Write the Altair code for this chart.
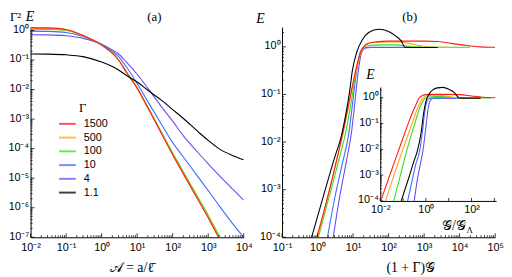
import altair as alt
import pandas as pd

SERIES = ["1500", "500", "100", "10", "4", "1.1"]
COLORS = ["#ff1a1a", "#ffa31a", "#33e01a", "#3a6cff", "#6a4cf0", "#000000"]
DRAW_ORDER = ["4", "10", "100", "500", "1500", "1.1"]

# ---------------- panel (a): Gamma^2 E vs A ----------------
A_X = [0.01, 0.03, 0.1, 0.3, 1, 2, 3, 5, 10, 20, 50, 100, 200, 500, 1000, 2000, 5000, 10000]
A_Y = {
    "1500": [1.25, 1.22, 1.08, 0.68, 0.32, 0.17, 0.1, 0.038, 0.011, 2.4e-3, 3.0e-4, 6.2e-5, 1.4e-5, 2.0e-6, 4.6e-7, 9.5e-8, 1.3e-8, 2.5e-9],
    "500": [1.18, 1.16, 1.04, 0.67, 0.32, 0.17, 0.1, 0.039, 0.0112, 2.45e-3, 3.1e-4, 6.4e-5, 1.45e-5, 2.1e-6, 4.8e-7, 1.0e-7, 1.4e-8, 2.7e-9],
    "100": [1.1, 1.09, 1.0, 0.66, 0.32, 0.17, 0.1, 0.04, 0.0118, 2.6e-3, 3.4e-4, 7.2e-5, 1.65e-5, 2.4e-6, 5.6e-7, 1.2e-7, 1.8e-8, 3.5e-9],
    "10": [0.95, 0.93, 0.85, 0.62, 0.34, 0.2, 0.13, 0.058, 0.016, 3.9e-3, 6.2e-4, 1.6e-4, 5.2e-5, 1.18e-5, 3.8e-6, 1.21e-6, 2.8e-7, 1.0e-7],
    "4": [0.72, 0.71, 0.66, 0.54, 0.34, 0.22, 0.16, 0.085, 0.033, 0.011, 2.5e-3, 8.5e-4, 2.7e-4, 7.7e-5, 3.06e-5, 1.27e-5, 4.15e-6, 1.8e-6],
    "1.1": [0.16, 0.158, 0.15, 0.13, 0.085, 0.06, 0.046, 0.03, 0.018, 0.0095, 4.2e-3, 2.1e-3, 1.05e-3, 3.9e-4, 1.9e-4, 1.0e-4, 5.8e-5, 4.2e-5],
}

# ---------------- panel (b): E vs (1+Gamma)G ----------------
B_X = {
    "1500": [0.955, 1.86, 3.16, 5.01, 7.08, 10, 13.2, 17.8, 25.1, 39.8, 100, 316, 1000, 2512, 6310, 15850, 39810, 100000],
    "500": [1.0, 1.86, 3.16, 5.25, 7.41, 10.5, 13.8, 18.6, 26.3, 39.8, 100, 200, 398, 794, 1259, 3981],
    "100": [1.05, 2.4, 3.9, 6.31, 8.91, 11.7, 15.1, 20, 28.2, 63.1, 158, 316, 631, 3162, 19950],
    "10": [1.9, 3.1, 5.01, 7.76, 10, 12.6, 15.8, 20, 28.2, 100, 398],
    "4": [2.75, 4.3, 6.5, 9.12, 11.5, 14.1, 17.4, 21.4, 31.6, 100, 316],
    "1.1": [0.68, 1.5, 3.1, 4.57, 6.31, 7.94, 9.55, 12.6, 18.2, 27.5, 52.5, 100, 158, 229, 288, 398, 2400],
}
B_Y = {
    "1500": [1e-4, 6.3e-4, 3.16e-3, 0.0141, 0.05, 0.178, 0.447, 0.891, 1.17, 1.26, 1.32, 1.32, 1.32, 1.29, 1.17, 1.07, 1.0, 0.977],
    "500": [1e-4, 6.3e-4, 3.16e-3, 0.0158, 0.056, 0.19, 0.468, 0.891, 1.15, 1.23, 1.26, 1.26, 1.17, 1.05, 0.99, 0.977],
    "100": [1e-4, 1e-3, 3.98e-3, 0.017, 0.0708, 0.251, 0.603, 1.0, 1.07, 1.1, 1.1, 1.05, 1.0, 0.977, 0.977],
    "10": [1e-4, 7.1e-4, 3.55e-3, 0.017, 0.079, 0.316, 0.76, 0.955, 0.977, 0.977, 0.977],
    "4": [1e-4, 7.9e-4, 3.98e-3, 0.017, 0.079, 0.316, 0.76, 0.933, 0.966, 0.966, 0.966],
    "1.1": [1e-4, 7.9e-4, 5.0e-3, 0.0126, 0.04, 0.112, 0.316, 0.76, 1.41, 2.0, 2.34, 2.09, 1.7, 1.32, 0.977, 0.966, 0.966],
}

# ---------------- inset: E vs G/G_Lambda ----------------
I_X = {
    "1500": [0.0105, 0.0316, 0.0631, 0.145, 0.251, 0.355, 0.501, 0.708, 1.0, 3.16, 10, 31.6, 100, 316, 1200],
    "500": [0.017, 0.0398, 0.0933, 0.214, 0.355, 0.501, 0.708, 1.0, 2.0, 3.55, 7.94, 20, 70.8],
    "100": [0.0389, 0.0794, 0.145, 0.288, 0.447, 0.631, 0.891, 1.26, 2.51, 6.31, 20, 100, 676],
    "10": [0.158, 0.251, 0.355, 0.537, 0.708, 0.891, 1.12, 1.41, 2.0, 6.31, 31.6],
    "4": [0.309, 0.417, 0.562, 0.741, 0.955, 1.2, 1.51, 1.91, 2.82, 6.31, 31.6],
    "1.1": [0.0832, 0.178, 0.316, 0.427, 0.631, 0.794, 1.0, 1.41, 2.0, 3.16, 5.62, 10, 17.8, 27.5, 35.5, 251],
}
I_Y = {
    "1500": [1e-4, 1.58e-3, 8.9e-3, 0.069, 0.251, 0.501, 0.955, 1.23, 1.32, 1.35, 1.35, 1.32, 1.17, 1.05, 1.0],
    "500": [1e-4, 1e-3, 8.9e-3, 0.069, 0.251, 0.525, 0.933, 1.17, 1.26, 1.26, 1.15, 1.02, 0.977],
    "100": [1e-4, 1.12e-3, 8.9e-3, 0.069, 0.251, 0.562, 0.933, 1.07, 1.1, 1.1, 1.0, 0.977, 0.977],
    "10": [1e-4, 6.3e-4, 2.5e-3, 8.9e-3, 0.05, 0.282, 0.741, 0.933, 0.966, 0.966, 0.966],
    "4": [1e-4, 6.3e-4, 2.5e-3, 8.9e-3, 0.05, 0.282, 0.741, 0.933, 0.966, 0.966, 0.966],
    "1.1": [1e-4, 7.9e-4, 3.98e-3, 8.9e-3, 0.05, 0.251, 0.708, 1.41, 2.0, 2.4, 2.51, 2.14, 1.58, 1.0, 0.966, 0.966],
}

W, H = 217, 214
INSET = dict(x0=100, x1=218, y0=177, y1=61)
TOP = -10  # vertical centre of the texts above the plots

SUP = str.maketrans("-0123456789", "⁻⁰¹²³⁴⁵⁶⁷⁸⁹")


def label_expr(lo, hi):
    expr = "''"
    for e in range(hi, lo - 1, -1):
        expr = "abs(log(datum.value)/LN10 - (%d)) < 0.01 ? '10%s' : (%s)" % (e, str(e).translate(SUP), expr)
    return expr


def majors(lo, hi):
    return [10.0 ** e for e in range(lo, hi + 1)]


def minors(lo, hi, vmax):
    return [k * 10.0 ** e for e in range(lo, hi + 1) for k in range(2, 10) if k * 10.0 ** e <= vmax]


def frame(xs, ys):
    rows = []
    for i, g in enumerate(DRAW_ORDER):
        xv = xs if isinstance(xs, list) else xs[g]
        for x, y in zip(xv, ys[g]):
            rows.append({"x": x, "y": y, "g": g, "k": i})
    return pd.DataFrame(rows)


def axis(lo, hi, values=None, **kw):
    base = dict(values=values if values is not None else majors(lo, hi), labelExpr=label_expr(lo, hi),
                ticks=False, grid=False, domain=True, domainColor="black", domainWidth=1,
                labelFont="Liberation Sans", labelFontSize=11, labelColor="black",
                labelFlush=False, labelOverlap=False, title=None)
    base.update(kw)
    return alt.Axis(**base)


CSCALE = alt.Scale(domain=SERIES, range=COLORS)


def lines(df, xs, ys, xaxis, yaxis, legend=None):
    return alt.Chart(df).mark_line(strokeWidth=1.1, interpolate="monotone", clip=True).encode(
        x=alt.X("x:Q", scale=xs, axis=xaxis),
        y=alt.Y("y:Q", scale=ys, axis=yaxis),
        color=alt.Color("g:N", scale=CSCALE, legend=legend, sort=SERIES),
        detail="k:O",
    )


def yticks(vals, scale, yaxis, length, x0=0):
    return alt.Chart(pd.DataFrame({"y": vals})).mark_rule(color="black", strokeWidth=0.8).encode(
        y=alt.Y("y:Q", scale=scale, axis=yaxis), x=alt.value(x0), x2=alt.value(x0 + length))


def xticks(vals, scale, xaxis, length, y0=H):
    return alt.Chart(pd.DataFrame({"x": vals})).mark_rule(color="black", strokeWidth=0.8).encode(
        x=alt.X("x:Q", scale=scale, axis=xaxis), y=alt.value(y0), y2=alt.value(y0 - length))


def text(t, x, y, size=13, font="Liberation Serif", style="normal", align="center", baseline="middle"):
    return alt.Chart(pd.DataFrame({"t": [t]})).mark_text(
        font=font, fontSize=size, fontStyle=style, align=align, baseline=baseline, color="black"
    ).encode(x=alt.value(x), y=alt.value(y), text="t:N")


# ---------- panel (a) ----------
xa = alt.Scale(type="log", domain=[0.01, 1e4], nice=False)
ya = alt.Scale(type="log", domain=[1e-7, 1.3], nice=False)
ax_xa = axis(-2, 4, labelPadding=4)
ax_ya = axis(-7, 0, labelPadding=2, labelOffset=-1)
legend_a = alt.Legend(orient="none", legendX=28, legendY=76, title="Γ", titleFont="Liberation Serif",
                      titleFontSize=13, titleFontWeight="normal", titleColor="black", titleAnchor="middle",
                      titlePadding=3, labelFont="Liberation Sans", labelFontSize=11, labelColor="black",
                      symbolType="stroke", symbolSize=289, symbolStrokeWidth=2, symbolOpacity=0.75,
                      clipHeight=13, rowPadding=1, labelOffset=7, padding=0)
panel_a = alt.layer(
    lines(frame(A_X, A_Y), xa, ya, ax_xa, ax_ya, legend_a),
    yticks(majors(-7, 0), ya, ax_ya, 4), yticks(minors(-7, 0, 1.3), ya, ax_ya, 2),
    xticks(majors(-2, 4), xa, ax_xa, 4), xticks(minors(-2, 3, 1e4), xa, ax_xa, 2),
    text("Γ²", -21, TOP, size=13, align="left"),
    text("E", -5, TOP, size=14, style="italic", align="left"),
    text("(a)", 126, TOP, size=13),
    text("𝒜 = a/ℓ̄", 103, 245, size=14),
).properties(width=W, height=H)

# ---------- panel (b) ----------
xb = alt.Scale(type="log", domain=[0.1, 1e5], nice=False)
yb = alt.Scale(type="log", domain=[1e-4, 2.6], nice=False)
xi = alt.Scale(type="log", domain=[0.01, 1200], nice=False, range=[INSET["x0"], INSET["x1"]])
yi = alt.Scale(type="log", domain=[1e-4, 2.6], nice=False, range=[INSET["y0"], INSET["y1"]])
ax_xb = axis(-1, 5, labelPadding=4)
ax_yb = axis(-4, 0, labelPadding=2, labelOffset=-1)
ax_xi = axis(-2, 2, values=[0.01, 1, 100], orient="bottom", offset=-(H - INSET["y0"]), labelPadding=3)
ax_yi = axis(-4, 0, orient="left", offset=-INSET["x0"], labelPadding=2, labelOffset=-1)

main_b = alt.layer(
    lines(frame(B_X, B_Y), xb, yb, ax_xb, ax_yb),
    yticks(majors(-4, 0), yb, ax_yb, 4), yticks(minors(-4, 0, 2.6), yb, ax_yb, 2),
    xticks(majors(-1, 5), xb, ax_xb, 4), xticks(minors(-1, 4, 1e5), xb, ax_xb, 2),
    text("E", -22, TOP + 2, size=14, style="italic"),
    text("(b)", 130, TOP, size=13),
    text("(1 + Γ)𝒢", 131, 245, size=14),
    text("E", 90, 49, size=14, style="italic"),
    text("𝒢/𝒢", 175, 203, size=14),
    text("Λ", 191, 207, size=9),
)
inset_b = alt.layer(
    lines(frame(I_X, I_Y), xi, yi, ax_xi, ax_yi),
    yticks(majors(-4, 0), yi, ax_yi, 3, INSET["x0"]), yticks(minors(-4, 0, 2.6), yi, ax_yi, 1.5, INSET["x0"]),
    xticks(majors(-2, 3), xi, ax_xi, 3, INSET["y0"]),
)
panel_b = alt.layer(main_b, inset_b).resolve_scale(x="independent", y="independent").properties(width=W, height=H)

chart = alt.hconcat(panel_a, panel_b, spacing=3).resolve_scale(color="independent").properties(
    padding=0, background="white"
).configure_view(stroke=None)

chart.save("out.html", embed_options={"renderer": "svg", "actions": False})
